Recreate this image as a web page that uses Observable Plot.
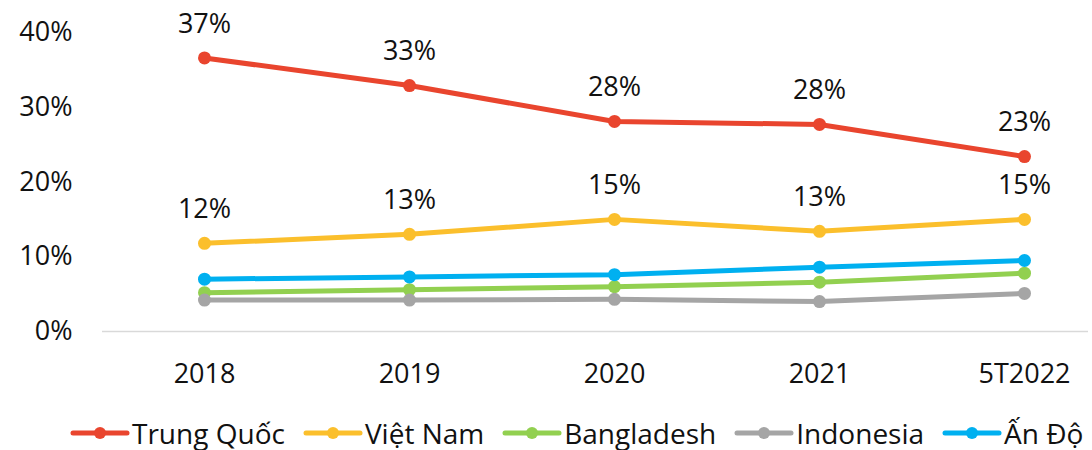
<!DOCTYPE html>
<html>
<head>
<meta charset="utf-8">
<script src="https://cdn.jsdelivr.net/npm/d3@7"></script>
<script src="https://cdn.jsdelivr.net/npm/@observablehq/plot@0.6"></script>
<style>
  body { margin: 0; background: #fff; font-family: "Open Sans", sans-serif; overflow: hidden; }
  #chart svg { display: block; }
  #legend { display: flex; align-items: center; height: 34px; line-height: 34px; padding-top: 20px; padding-left: 70px; font-size: 28px; color: #111; white-space: nowrap; }
  .item { display: flex; align-items: center; margin-right: 18px; }
  .item svg { display: block; margin-right: 2px; }
</style>
</head>
<body>
<div id="chart"></div>
<div id="legend"></div>
<script>
const years = ["2018", "2019", "2020", "2021", "5T2022"];
const seriesNames = ["Trung Quốc", "Việt Nam", "Bangladesh", "Indonesia", "Ấn Độ"];
const colors = ["#E9452E", "#FBBF2C", "#92D050", "#A5A5A5", "#00B0F0"];
const trungQuoc = [36.6, 32.9, 28.1, 27.7, 23.4];
const vietNam = [11.8, 13.0, 15.0, 13.4, 15.0];
const bangladesh = [5.2, 5.6, 6.0, 6.6, 7.8];
const indonesia = [4.2, 4.2, 4.3, 4.0, 5.1];
const anDo = [7.0, 7.3, 7.6, 8.6, 9.5];
const labelled = ["Trung Quốc", "Việt Nam"];
const yTicks = [0, 10, 20, 30, 40];

const valueArrays = [trungQuoc, vietNam, bangladesh, indonesia, anDo];
const data = [];
seriesNames.forEach((s, i) => years.forEach((y, j) => data.push({series: s, year: y, value: valueArrays[i][j]})));
const labelData = data.filter(d => labelled.includes(d.series));

const chart = Plot.plot({
  width: 1092,
  height: 396,
  marginLeft: 102,
  marginRight: 4,
  marginTop: 32,
  marginBottom: 65,
  style: {fontFamily: "'Open Sans', sans-serif", fontSize: "27px", color: "#111", background: "#fff", overflow: "visible"},
  x: {type: "point", domain: years, range: [204, 1024], padding: 0, label: null, tickSize: 0, tickPadding: 32},
  y: {domain: [0, 40], ticks: yTicks, tickFormat: d => d + "%", label: null, tickSize: 0, tickPadding: 30},
  color: {domain: seriesNames, range: colors},
  marks: [
    Plot.ruleY([0], {stroke: "#d9d9d9", strokeWidth: 1.5}),
    Plot.line(data, {x: "year", y: "value", z: "series", stroke: "series", strokeWidth: 5}),
    Plot.dot(data, {x: "year", y: "value", fill: "series", r: 6.5}),
    Plot.text(labelData, {x: "year", y: "value", text: d => Math.round(d.value) + "%", dy: -34, fontSize: 27, fill: "#111"})
  ]
});
document.getElementById("chart").appendChild(chart);

const legend = document.getElementById("legend");
seriesNames.forEach((s, i) => {
  const item = document.createElement("div");
  item.className = "item";
  item.innerHTML = `<svg width="60" height="16"><line x1="3" y1="8" x2="57" y2="8" stroke="${colors[i]}" stroke-width="5" stroke-linecap="round"/><circle cx="30" cy="8" r="6" fill="${colors[i]}"/></svg><span>${s}</span>`;
  legend.appendChild(item);
});
</script>
</body>
</html>
